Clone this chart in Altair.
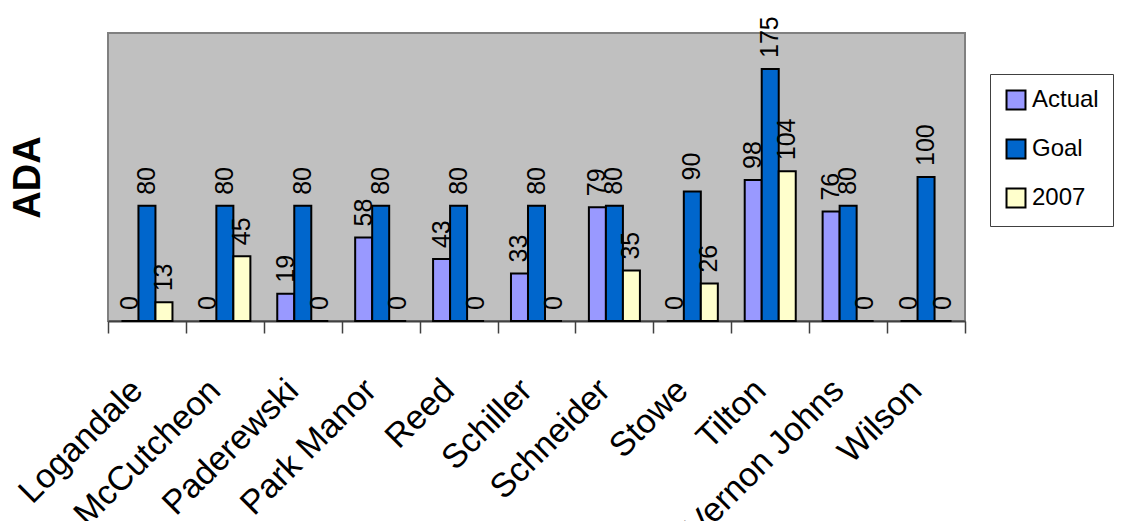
import altair as alt
import pandas as pd

schools = ["Logandale", "McCutcheon", "Paderewski", "Park Manor", "Reed", "Schiller",
           "Schneider", "Stowe", "Tilton", "Vernon Johns", "Wilson"]
actual = [0, 0, 19, 58, 43, 33, 79, 0, 98, 76, 0]
goal = [80, 80, 80, 80, 80, 80, 80, 90, 175, 80, 100]
y2007 = [13, 45, 0, 0, 0, 0, 35, 26, 104, 0, 0]
series = ["Actual", "Goal", "2007"]
colors = ["#9999FF", "#0066CC", "#FFFFCC"]

rows = []
for i, s in enumerate(schools):
    for name, vals in zip(series, [actual, goal, y2007]):
        rows.append({"School": s, "Series": name, "Value": vals[i]})
df = pd.DataFrame(rows)

FONT = "Liberation Sans"

x = alt.X("School:N", sort=schools,
          scale=alt.Scale(paddingInner=0, paddingOuter=0),
          axis=alt.Axis(title=None, labelAngle=-45, labelAlign="right", labelBaseline="middle",
                        labelFontSize=34, labelFont=FONT, labelColor="black",
                        labelPadding=52, labelOffset=-10, tickBand="extent", tickSize=12,
                        tickColor="#404040", tickWidth=1.5, domainColor="#404040", domainWidth=2,
                        labelOverlap=False, labelLimit=400))
xo = alt.XOffset("Series:N", sort=series, scale=alt.Scale(paddingInner=0, paddingOuter=0.79))
y = alt.Y("Value:Q", scale=alt.Scale(domain=[0, 200], nice=False, zero=True),
          axis=alt.Axis(title="ADA", labels=False, ticks=False, grid=False, domain=False,
                        titleFontSize=38, titleFont=FONT, titleFontWeight="bold",
                        titleColor="black", titleAngle=270, titleX=-80, titleY=144,
                        titleAlign="center", titleBaseline="middle"))

bars = alt.Chart(df).mark_bar(stroke="black", strokeWidth=2).encode(
    x=x, xOffset=xo, y=y,
    color=alt.Color("Series:N", sort=series,
                    scale=alt.Scale(domain=series, range=colors),
                    legend=alt.Legend(title=None, orient="none", legendX=882, legendY=41,
                                      symbolType="square", symbolSize=360,
                                      symbolStrokeColor="black", symbolStrokeWidth=2,
                                      labelFontSize=24, labelFont=FONT, labelColor="black",
                                      rowPadding=21, padding=14, labelOffset=4,
                                      strokeColor="#404040", fillColor="white"))
)

labels = alt.Chart(df).mark_text(angle=270, align="left", baseline="middle", dx=11,
                                 fontSize=25, font=FONT, color="black").encode(
    x=x, xOffset=xo, y=y, text=alt.Text("Value:Q")
)

chart = alt.layer(bars, labels).properties(
    width=857, height=288,
    padding={"left": 100, "top": 25, "right": 152, "bottom": 200},
    autosize=alt.AutoSizeParams(type="none"),
    background="white"
).configure_view(fill="#C0C0C0", stroke="#808080", strokeWidth=2)

chart.save("out.html", embed_options={"renderer": "svg", "actions": False})
